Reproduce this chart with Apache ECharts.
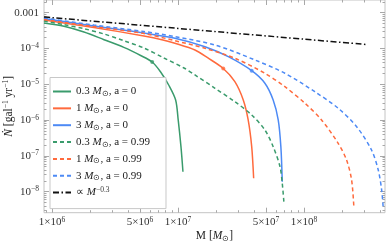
<!DOCTYPE html>
<html><head><meta charset="utf-8">
<script src="https://cdn.jsdelivr.net/npm/echarts@6/dist/echarts.min.js"></script>
<style>html,body{margin:0;padding:0;background:#fff}#c{width:390px;height:244px}</style>
</head><body><div id="c"></div>
<script>
// ---- data ----
const seriesNames = ['0.3 Msun, a = 0', '1 Msun, a = 0', '3 Msun, a = 0', '0.3 Msun, a = 0.99', '1 Msun, a = 0.99', '3 Msun, a = 0.99', 'prop M^-0.3'];
const legendLabels = ['0.3 {i|M}{sub|⊙}, a = 0', '1 {i|M}{sub|⊙}, a = 0', '3 {i|M}{sub|⊙}, a = 0', '0.3 {i|M}{sub|⊙}, a = 0.99', '1 {i|M}{sub|⊙}, a = 0.99', '3 {i|M}{sub|⊙}, a = 0.99', '∝ {i|M}{sup|−0.3}'];

const massA0_03 = [8.65e5, 1.245e6, 1.795e6, 2.59e6, 3.72e6, 5.06e6, 6.25e6, 7.29e6, 8.49e6, 9.59e6, 1.005e7, 1.057e7, 1.096e7];
const rateA0_03 = [5.15e-4, 4.17e-4, 2.89e-4, 1.76e-4, 1.07e-4, 6.37e-5, 4.20e-5, 2.21e-5, 9.25e-6, 3.64e-6, 1.01e-6, 1.81e-7, 3.62e-8];

const massA0_1 = [8.65e5, 2.15e6, 5.37e6, 7.60e6, 9.46e6, 1.365e7, 1.73e7, 2.29e7, 2.83e7, 3.30e7, 3.61e7, 3.85e7, 3.99e7];
const rateA0_1 = [6.25e-4, 3.86e-4, 2.23e-4, 1.73e-4, 1.40e-4, 9.08e-5, 5.43e-5, 2.76e-5, 1.18e-5, 3.64e-6, 1.01e-6, 1.81e-7, 2.37e-8];

const massA0_3 = [8.65e5, 2.15e6, 5.37e6, 9.46e6, 1.64e7, 2.51e7, 3.85e7, 4.90e7, 5.70e7, 6.25e7, 6.56e7, 6.73e7];
const rateA0_3 = [6.89e-4, 4.25e-4, 2.71e-4, 1.93e-4, 1.12e-4, 5.90e-5, 2.40e-5, 1.07e-5, 3.64e-6, 1.01e-6, 1.81e-7, 1.90e-8];

const massA99_03 = [8.65e5, 1.245e6, 1.795e6, 2.59e6, 3.72e6, 5.37e6, 7.74e6, 1.117e7, 1.365e7, 1.97e7, 2.83e7, 3.85e7, 4.90e7, 5.70e7, 6.46e7, 6.73e7, 6.93e7];
const rateA99_03 = [5.86e-4, 4.62e-4, 3.57e-4, 2.54e-4, 1.65e-4, 1.03e-4, 5.43e-5, 2.85e-5, 1.82e-5, 7.73e-6, 3.27e-6, 1.39e-6, 5.28e-7, 1.81e-7, 4.99e-8, 1.72e-8, 5.26e-9];

const massA99_1 = [8.65e5, 2.15e6, 5.37e6, 9.46e6, 1.64e7, 2.83e7, 4.90e7, 7.06e7, 1.02e8, 1.38e8, 1.87e8, 2.18e8, 2.39e8, 2.49e8];
const rateA99_1 = [6.46e-4, 4.12e-4, 2.62e-4, 1.65e-4, 1.01e-4, 5.32e-5, 2.03e-5, 8.57e-6, 2.94e-6, 1.01e-6, 2.25e-7, 7.67e-8, 2.12e-8, 3.81e-9];

const massA99_3 = [8.65e5, 2.15e6, 5.37e6, 9.46e6, 1.97e7, 4.08e7, 7.06e7, 1.22e8, 1.87e8, 2.62e8, 3.44e8, 3.89e8, 4.14e8, 4.26e8];
const rateA99_3 = [7.11e-4, 4.53e-4, 2.98e-4, 2.14e-4, 1.25e-4, 4.78e-5, 2.03e-5, 6.21e-6, 2.14e-6, 6.55e-7, 1.46e-7, 4.04e-8, 1.11e-8, 3.44e-9];

const massPower = [8.65e5, 1e6, 1e7, 1e8, 3.15e8];
const ratePower = [7.59e-4, 7.26e-4, 3.64e-4, 1.82e-4, 1.29e-4];

const markerMass = [6.25e6, 2.29e7, 3.85e7];
const markerRate = [4.20e-5, 2.76e-5, 2.40e-5];

const xTickValues = [1e6, 5e6, 1e7, 5e7, 1e8];
const xTickLabels = ['1×10{sup|6}', '5×10{sup|6}', '1×10{sup|7}', '5×10{sup|7}', '1×10{sup|8}'];
const yTickValues = [1e-3, 1e-4, 1e-5, 1e-6, 1e-7, 1e-8];
const yTickLabels = ['0.001', '10{sup|−4}', '10{sup|−5}', '10{sup|−6}', '10{sup|−7}', '10{sup|−8}'];

// ---- styling / layout ----
const FONT = 'Liberation Serif';
const GREEN = '#3a9b6c', ORANGE = '#ff6a3d', BLUE = '#4d8af5', BLACK = '#111';
const X_MIN = 8.65e5, X_MAX = 4.4e8, Y_MIN = 2.59e-9, Y_MAX = 2.26e-3;
const TICK_COLOR = '#a8a8a8';

function minorList(lo, hi) {
  const out = [];
  for (let e = Math.floor(Math.log10(lo)) - 1; e <= Math.ceil(Math.log10(hi)); e++) {
    for (let m = 1; m <= 9; m++) {
      const v = m * Math.pow(10, e);
      if (v > lo && v < hi) out.push(v);
    }
  }
  return out;
}
const xMinor = minorList(X_MIN, X_MAX).filter(v => !xTickValues.some(t => Math.abs(t - v) / t < 1e-9));
const yMinor = minorList(Y_MIN, Y_MAX).filter(v => !yTickValues.some(t => Math.abs(t - v) / t < 1e-9));

function lookup(values, labels, v) {
  const i = values.findIndex(t => Math.abs(Math.log10(t) - Math.log10(v)) < 1e-6);
  return i >= 0 ? labels[i] : '';
}
const richBase = {
  sup: { fontFamily: FONT, fontSize: 7.5, lineHeight: 8, verticalAlign: 'top', color: '#333' },
  sub: { fontFamily: FONT, fontSize: 7.5, lineHeight: 8, verticalAlign: 'bottom', color: '#222' },
  i: { fontFamily: FONT, fontStyle: 'italic', fontSize: 11, lineHeight: 13, color: '#222' }
};

function makeAxis(kind, pos, ticks, len, labelCfg) {
  const isX = kind === 'x';
  return {
    type: 'log', position: pos, gridIndex: 0,
    min: isX ? X_MIN : Y_MIN, max: isX ? X_MAX : Y_MAX,
    axisLine: { show: false }, splitLine: { show: false }, minorTick: { show: false },
    axisTick: { show: true, inside: true, length: len, customValues: ticks, lineStyle: { color: TICK_COLOR, width: 1 } },
    axisLabel: labelCfg ? Object.assign({ show: true, customValues: ticks }, labelCfg) : { show: false }
  };
}

const xLabelCfg = {
  margin: 3, fontFamily: FONT, fontSize: 11, color: '#333', lineHeight: 13,
  formatter: v => lookup(xTickValues, xTickLabels, v),
  rich: { sup: richBase.sup }
};
const yLabelCfg = {
  margin: 5, fontFamily: FONT, fontSize: 11, color: '#333', lineHeight: 13,
  formatter: v => lookup(yTickValues, yTickLabels, v),
  rich: { sup: richBase.sup }
};

const xAxes = [
  makeAxis('x', 'bottom', xTickValues, 5, xLabelCfg),
  makeAxis('x', 'bottom', xMinor, 2.5, null),
  makeAxis('x', 'top', xTickValues, 5, null),
  makeAxis('x', 'top', xMinor, 2.5, null)
];
xAxes[0].name = 'M [{i|M}{sub|⊙}]';
xAxes[0].nameLocation = 'middle';
xAxes[0].nameGap = 17;
xAxes[0].nameMoveOverlap = false;
xAxes[0].nameTextStyle = { fontFamily: FONT, fontSize: 11.5, color: '#222', lineHeight: 13, rich: { i: Object.assign({}, richBase.i, { fontSize: 11.5 }), sub: richBase.sub } };

const yAxes = [
  makeAxis('y', 'left', yTickValues, 5, yLabelCfg),
  makeAxis('y', 'left', yMinor, 2.5, null),
  makeAxis('y', 'right', yTickValues, 5, null),
  makeAxis('y', 'right', yMinor, 2.5, null)
];
yAxes[0].name = '{i|Ṅ} [gal{sup|−1} yr{sup|−1}]';
yAxes[0].nameLocation = 'middle';
yAxes[0].nameRotate = 90;
yAxes[0].nameGap = 28.5;
yAxes[0].nameMoveOverlap = false;
yAxes[0].nameTextStyle = { fontFamily: FONT, fontSize: 11.5, color: '#222', lineHeight: 13, rich: { i: Object.assign({}, richBase.i, { fontSize: 11.5 }), sup: Object.assign({}, richBase.sup, { color: '#222' }) } };

function zip(a, b) { return a.map((v, i) => [v, b[i]]); }
function lineSeries(name, mass, rate, color, type) {
  return {
    name, type: 'line', xAxisIndex: 0, yAxisIndex: 0,
    data: zip(mass, rate), symbol: 'none', smooth: 0.3,
    lineStyle: { color, width: 1.5, type }, itemStyle: { color }, z: 3
  };
}
const dash = [4, 3];
const series = [
  lineSeries(seriesNames[0], massA0_03, rateA0_03, GREEN, 'solid'),
  lineSeries(seriesNames[1], massA0_1, rateA0_1, ORANGE, 'solid'),
  lineSeries(seriesNames[2], massA0_3, rateA0_3, BLUE, 'solid'),
  lineSeries(seriesNames[3], massA99_03, rateA99_03, GREEN, dash),
  lineSeries(seriesNames[4], massA99_1, rateA99_1, ORANGE, dash),
  lineSeries(seriesNames[5], massA99_3, rateA99_3, BLUE, dash),
  lineSeries(seriesNames[6], massPower, ratePower, BLACK, [6, 2.5, 1.5, 2.5]),
  {
    name: 'markers', type: 'scatter', xAxisIndex: 0, yAxisIndex: 0, symbol: 'circle', symbolSize: 4, z: 4,
    data: markerMass.map((m, i) => ({ value: [m, markerRate[i]], itemStyle: { color: [GREEN, ORANGE, BLUE][i] } }))
  }
];

const chart = echarts.init(document.getElementById('c'), null, { renderer: 'canvas' });
chart.setOption({
  animation: false,
  backgroundColor: '#fff',
  grid: { left: 44, right: 5, top: 0, bottom: 31.3, show: true, borderColor: '#c4c4c4', borderWidth: 1, outerBoundsMode: 'none', containLabel: false },
  xAxis: xAxes,
  yAxis: yAxes,
  legend: {
    data: seriesNames, orient: 'vertical', left: 50, top: 77.5,
    padding: [7.5, 16, 9.5, 2], itemWidth: 18, itemHeight: 12, itemGap: 3.85,
    backgroundColor: '#fff', borderColor: '#c8c8c8', borderWidth: 1,
    itemStyle: { opacity: 0 },
    formatter: name => legendLabels[seriesNames.indexOf(name)],
    textStyle: { fontFamily: FONT, fontSize: 11, color: '#222', lineHeight: 13, rich: richBase }
  },
  series
});
</script></body></html>
